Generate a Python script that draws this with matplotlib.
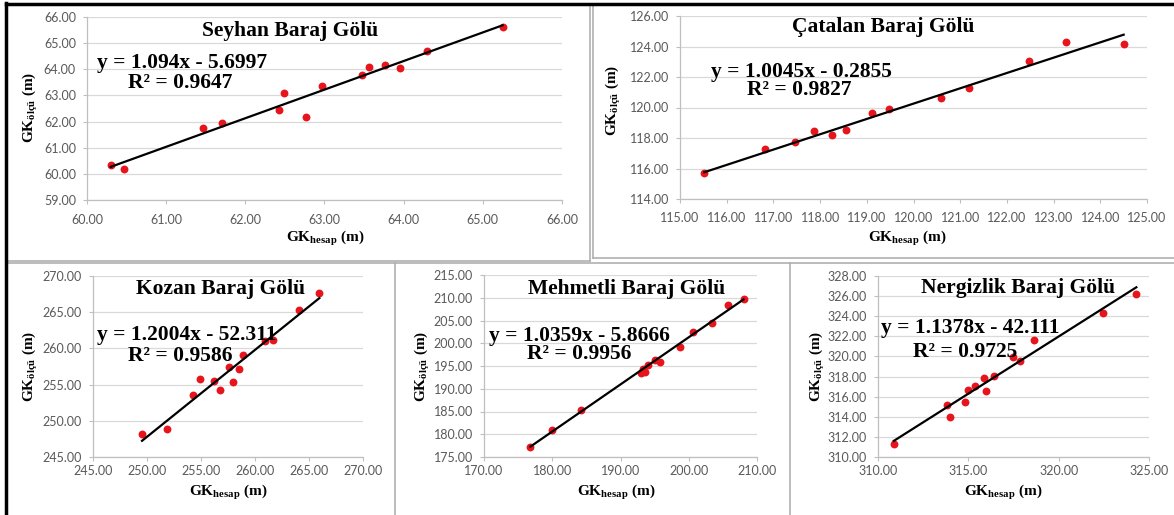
import matplotlib
matplotlib.use('Agg')
import matplotlib.pyplot as plt
from matplotlib.lines import Line2D
import numpy as np

plt.rcParams['mathtext.fontset'] = 'custom'
plt.rcParams['mathtext.rm'] = 'Liberation Serif'
plt.rcParams['mathtext.bf'] = 'Liberation Serif:bold'

# data
seyhan_x = [60.30, 60.47, 61.47, 61.70, 62.42, 62.49, 62.77, 62.97, 63.47, 63.56, 63.76, 63.96, 64.30, 65.25]
seyhan_y = [60.33, 60.20, 61.75, 61.95, 62.46, 63.10, 62.18, 63.37, 63.80, 64.10, 64.15, 64.05, 64.70, 65.60]
catalan_x = [115.52, 116.82, 117.46, 117.86, 118.25, 118.55, 119.11, 119.48, 120.59, 121.19, 122.47, 123.26, 124.50]
catalan_y = [115.68, 117.25, 117.72, 118.45, 118.22, 118.55, 119.62, 119.90, 120.60, 121.30, 123.05, 124.30, 124.15]
kozan_x = [249.54, 251.85, 254.26, 254.94, 256.17, 256.79, 257.62, 257.93, 258.52, 258.92, 260.96, 261.64, 264.10, 265.96]
kozan_y = [248.11, 248.85, 253.60, 255.80, 255.50, 254.20, 257.45, 255.30, 257.10, 259.10, 261.00, 261.20, 265.30, 267.60]
mehmetli_x = [176.80, 179.90, 184.15, 192.96, 193.35, 193.60, 194.10, 195.06, 195.80, 198.70, 200.64, 203.40, 205.70, 208.03]
mehmetli_y = [177.20, 180.85, 185.30, 193.50, 194.30, 193.70, 195.15, 196.40, 195.90, 199.15, 202.40, 204.40, 208.30, 209.70]
nergiz_x = [310.87, 313.82, 313.97, 314.80, 314.98, 315.39, 315.87, 315.96, 316.40, 317.49, 317.84, 318.63, 322.44, 324.30]
nergiz_y = [311.25, 315.14, 313.99, 315.47, 316.70, 317.02, 317.85, 316.53, 318.04, 319.92, 319.50, 321.64, 324.34, 326.19]

titles = ['Seyhan Baraj Gölü', 'Çatalan Baraj Gölü', 'Kozan Baraj Gölü', 'Mehmetli Baraj Gölü', 'Nergizlik Baraj Gölü']
slopes = [1.094, 1.0045, 1.2004, 1.0359, 1.1378]
intercepts = [-5.6997, -0.2855, -52.311, -5.8666, -42.111]
eq_texts = ['y = 1.094x - 5.6997', 'y = 1.0045x - 0.2855', 'y = 1.2004x - 52.311',
            'y = 1.0359x - 5.8666', 'y = 1.1378x - 42.111']
r2_texts = ['R² = 0.9647', 'R² = 0.9827', 'R² = 0.9586', 'R² = 0.9956', 'R² = 0.9725']
xlims = [(60, 66, 1), (115, 125, 1), (245, 270, 5), (170, 210, 10), (310, 325, 5)]
ylims = [(59, 66, 1), (114, 126, 2), (245, 270, 5), (175, 215, 5), (310, 328, 2)]
xs = [seyhan_x, catalan_x, kozan_x, mehmetli_x, nergiz_x]
ys = [seyhan_y, catalan_y, kozan_y, mehmetli_y, nergiz_y]

W, H = 1174, 515
fig = plt.figure(figsize=(W / 100, H / 100), dpi=100)

def fx(px):
    return px / W
def fy(py):
    return 1 - py / H

# pixel layout: plot box (left, right, top, bottom), title, eq, r2, ylabel, xlabel
boxes = [(87, 562, 17, 200), (680, 1147, 16, 199), (93, 363, 276, 457), (484, 757, 275, 457), (878, 1149, 276, 457)]
xpads = [7, 6.5, 3, 3, 3]
title_pos = [(290, 31), (883, 27), (221, 289), (627, 289), (1018, 288)]
eq_pos = [(97, 63), (711, 72), (97, 335), (489, 336), (881, 328)]
r2_pos = [(128, 83), (747, 90), (128, 356), (527, 354), (913, 352)]
ylab_pos = [(30, 107), (613, 100), (30, 366), (422, 366), (817, 366)]
xlab_pos = [(325, 238), (907, 238), (228, 492), (616, 492), (1003, 492)]

serif = 'Liberation Serif'
for i in range(5):
    l, r, t, b = boxes[i]
    ax = fig.add_axes([fx(l), fy(b), (r - l) / W, (b - t) / H])
    x0, x1, xs_ = xlims[i]
    y0, y1, ys_ = ylims[i]
    ax.set_xlim(x0, x1)
    ax.set_ylim(y0, y1)
    ax.set_xticks(np.arange(x0, x1 + 0.001, xs_))
    ax.set_yticks(np.arange(y0, y1 + 0.001, ys_))
    ax.xaxis.set_major_formatter(matplotlib.ticker.FormatStrFormatter('%.2f'))
    ax.yaxis.set_major_formatter(matplotlib.ticker.FormatStrFormatter('%.2f'))
    ax.grid(axis='y', color='#d9d9d9', lw=0.9)
    ax.set_axisbelow(True)
    for s in ['top', 'right']:
        ax.spines[s].set_visible(False)
    for s in ['left', 'bottom']:
        ax.spines[s].set_color('#bfbfbf')
        ax.spines[s].set_linewidth(0.9)
    ax.tick_params(length=3, color='#bfbfbf', labelsize=9, labelcolor='#595959')
    ax.tick_params(axis='y', pad=5)
    ax.tick_params(axis='x', pad=xpads[i])
    for lab in ax.get_xticklabels() + ax.get_yticklabels():
        lab.set_family('Lato')
    ax.patch.set_alpha(0)
    ax.scatter(xs[i], ys[i], s=32, color='#e8141b', zorder=3, linewidths=0)
    lx = np.array([min(xs[i]), max(xs[i])])
    ax.plot(lx, slopes[i] * lx + intercepts[i], color='black', lw=1.6, zorder=4)

    fig.text(fx(title_pos[i][0]), fy(title_pos[i][1]), titles[i], ha='center', va='center',
             family=serif, weight='bold', fontsize=15.5)
    fig.text(fx(eq_pos[i][0]), fy(eq_pos[i][1]), eq_texts[i], ha='left', va='center',
             family=serif, weight='bold', fontsize=15.5)
    fig.text(fx(r2_pos[i][0]), fy(r2_pos[i][1]), r2_texts[i], ha='left', va='center',
             family=serif, weight='bold', fontsize=15.5)
    fig.text(fx(ylab_pos[i][0]), fy(ylab_pos[i][1]), r'GK$_{\mathbf{ölçü}}$ (m)', ha='center', va='center',
             rotation=90, family=serif, weight='bold', fontsize=11)
    fig.text(fx(xlab_pos[i][0]), fy(xlab_pos[i][1]), r'GK$_{\mathbf{hesap}}$ (m)', ha='center', va='center',
             family=serif, weight='bold', fontsize=11)

# panel borders
def seg(xa, ya, xb, yb, c, lw):
    fig.add_artist(Line2D([fx(xa), fx(xb)], [fy(ya), fy(yb)], color=c, lw=lw, transform=fig.transFigure))

g = '#b0b0b0'
seg(590, 5, 590, 261, g, 1.2)
seg(593, 5, 593, 258, g, 1.2)
seg(6, 261, 590, 261, g, 1.2)
seg(593, 258, 1174, 258, g, 1.2)
seg(6, 263, 1174, 263, g, 1.2)
seg(395, 263, 395, 515, g, 1.2)
seg(790, 263, 790, 515, g, 1.2)
seg(6, 4, 1174, 4, 'black', 2.5)
seg(6, 3, 6, 515, 'black', 2.5)

fig.savefig('out.png', dpi=100)
